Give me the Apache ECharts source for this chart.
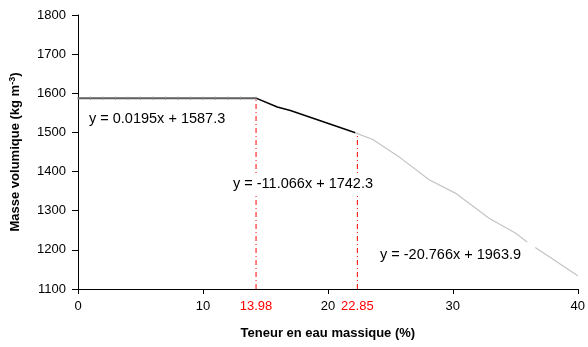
<!DOCTYPE html>
<html>
<head>
<meta charset="utf-8">
<script src="https://cdn.jsdelivr.net/npm/echarts@6/dist/echarts.min.js"></script>
<style>
  html, body { margin: 0; padding: 0; background: #fff; }
  #chart { width: 588px; height: 347px; }
</style>
</head>
<body>
<div id="chart"></div>
<script>
  // plateau, first slope, second slope
  const seg1 = [[0, 1587.3], [1, 1587.3], [2, 1587.3], [3, 1587.4], [4, 1587.4], [5, 1587.4], [6, 1587.4],
    [7, 1587.4], [8, 1587.5], [9, 1587.5], [10, 1587.5], [11, 1587.5], [12, 1587.5], [13, 1587.6], [14.25, 1587.6]];
  const seg2 = [[14.25, 1587.6], [15.95, 1565], [17.0, 1556], [22.2, 1499]];
  const seg3 = [[22.2, 1499], [23.6, 1482], [25.8, 1435], [28.1, 1379], [30.2, 1345], [32.9, 1281],
    [35.0, 1243], [35.95, 1220], [36.3, '-'], [36.6, 1206], [40, 1134]];
  const breakX = [14.25, 22.36];
  const breakTop = [1587, 1499];
  const breakLabels = ['13.98', '22.85'];
  const equations = ['y = 0.0195x + 1587.3', 'y = -11.066x + 1742.3', 'y = -20.766x + 1963.9'];

  const font = "'Liberation Sans', Arial, sans-serif";
  const chart = echarts.init(document.getElementById('chart'));

  const breakSeries = breakX.map((x, i) => ({
    type: 'line',
    data: [
      { value: [x, 1100], label: { show: true, position: 'bottom', distance: 11, formatter: breakLabels[i],
        color: '#ff0000', fontSize: 13, fontFamily: font } },
      { value: [x, breakTop[i]], label: { show: false } }
    ],
    symbol: 'circle', symbolSize: 0, showSymbol: true,
    itemStyle: { color: '#ff0000' },
    lineStyle: { color: '#ff0000', width: 1, type: [5, 3, 1, 3] },
    silent: true,
    z: 1
  }));

  const eqStyle = (t) => ({ text: t, fill: '#000', font: '14.5px ' + font, backgroundColor: '#fff', padding: [2, 0] });

  chart.setOption({
    animation: false,
    grid: { left: 76, right: 8, top: 15, bottom: 58 },
    xAxis: {
      type: 'value', min: 0, max: 40, interval: 10,
      name: 'Teneur en eau massique (%)', nameLocation: 'middle', nameGap: 38,
      nameTextStyle: { fontSize: 13, fontWeight: 'bold', color: '#000', fontFamily: font },
      axisLine: { lineStyle: { color: '#000', width: 1 } },
      axisTick: { length: 5, lineStyle: { color: '#000' } },
      axisLabel: { fontSize: 13, color: '#000', fontFamily: font, margin: 11 },
      splitLine: { show: false }
    },
    yAxis: {
      type: 'value', min: 1100, max: 1800, interval: 100,
      name: '{a|Masse volumique (kg m}{s|-3}{a|)}', nameLocation: 'middle', nameGap: 55,
      nameTextStyle: {
        rich: {
          a: { fontSize: 13, fontWeight: 'bold', color: '#000', fontFamily: font },
          s: { fontSize: 9, fontWeight: 'bold', color: '#000', fontFamily: font, verticalAlign: 'top', padding: [0, 0, 6, 0] }
        }
      },
      axisLine: { show: true, lineStyle: { color: '#000', width: 1 } },
      axisTick: { show: true, length: 6, lineStyle: { color: '#000' } },
      axisLabel: { fontSize: 13, color: '#000', fontFamily: font, margin: 12, formatter: (v) => String(v) },
      splitLine: { show: false }
    },
    series: [
      ...breakSeries,
      {
        type: 'line', data: seg1,
        symbol: 'rect', symbolSize: [1, 3], showSymbol: true,
        itemStyle: { color: '#888' },
        lineStyle: { color: '#5e5e5e', width: 2 }, z: 3
      },
      {
        type: 'line', data: seg2, symbol: 'none',
        lineStyle: { color: '#000', width: 1.5 }, z: 3
      },
      {
        type: 'line', data: seg3, symbol: 'none', connectNulls: false,
        lineStyle: { color: '#c4c4c4', width: 1.2 }, z: 3
      }
    ],
    graphic: [
      { type: 'text', left: 89, top: 109, z: 10, style: eqStyle(equations[0]) },
      { type: 'text', left: 233, top: 174, z: 10, style: eqStyle(equations[1]) },
      { type: 'text', left: 380, top: 245, z: 10, style: eqStyle(equations[2]) }
    ]
  });
</script>
</body>
</html>
